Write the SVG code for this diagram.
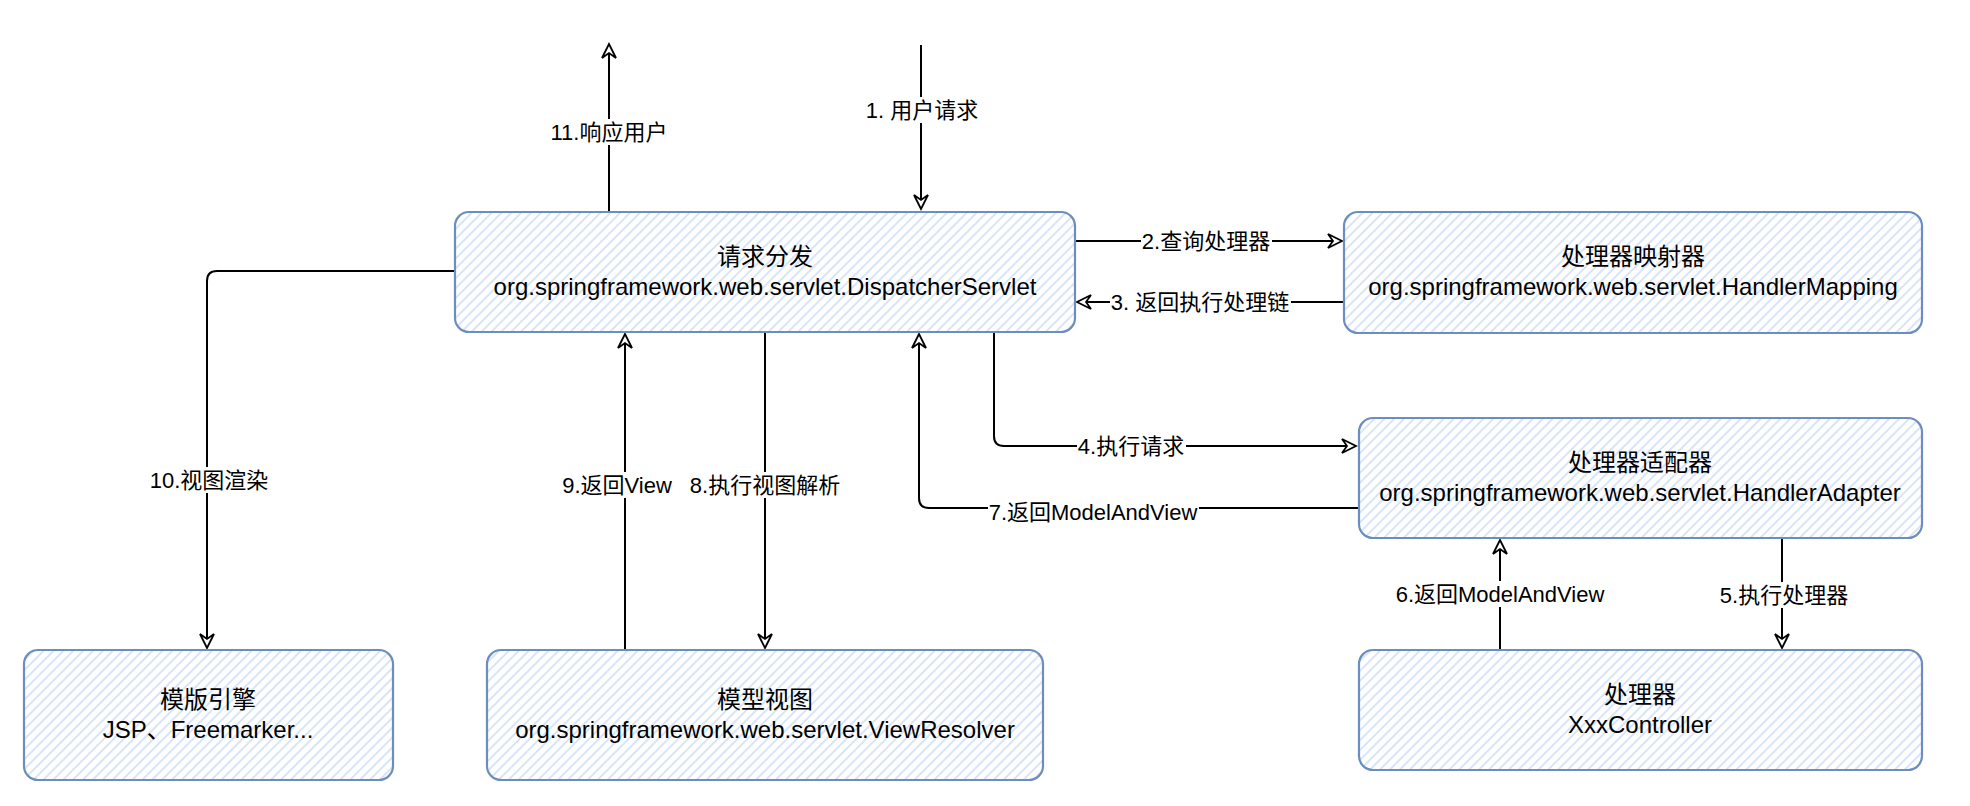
<svg xmlns="http://www.w3.org/2000/svg" width="1970" height="806" viewBox="0 0 1970 806">
<style>
.box{fill:url(#hatch);stroke:#6c8ebf;stroke-width:2.2}
.nt{font-family:"Liberation Sans","Noto Sans CJK SC",sans-serif;font-size:24px;fill:#000;text-anchor:middle}
.lt{font-family:"Liberation Sans","Noto Sans CJK SC",sans-serif;font-size:22px;fill:#000;text-anchor:middle}
.edge{fill:none;stroke:#000;stroke-width:2;marker-end:url(#arr)}
.lbg{fill:#fff}
</style>
<defs>
<pattern id="hatch" patternUnits="userSpaceOnUse" width="7" height="7" patternTransform="rotate(45)">
<rect width="7" height="7" fill="#fff"/>
<line x1="1" y1="0" x2="1" y2="7" stroke="#d4e3f8" stroke-width="1.8"/>
</pattern>
<marker id="arr" markerUnits="userSpaceOnUse" viewBox="-1 -1 17 16" refX="14" refY="7" markerWidth="17" markerHeight="16" orient="auto">
<path d="M0,0 L14,7 L0,14 L5,7 Z" fill="#fff" stroke="#000" stroke-width="1.8" stroke-linejoin="miter"/>
</marker>
</defs>
<rect width="1970" height="806" fill="#fff"/>

<g id="connectors">
<path class="edge" d="M921,45 L921,209"/>
<path class="edge" d="M609,212 L609,44"/>
<path class="edge" d="M1076,241 L1342,241"/>
<path class="edge" d="M1343,302 L1077,302"/>
<path class="edge" d="M994,333 L994,436 Q994,446 1004,446 L1356,446"/>
<path class="edge" d="M1782,539 L1782,648"/>
<path class="edge" d="M1500,650 L1500,540"/>
<path class="edge" d="M1359,508 L929,508 Q919,508 919,498 L919,334"/>
<path class="edge" d="M765,333 L765,648"/>
<path class="edge" d="M625,650 L625,334"/>
<path class="edge" d="M455,271 L217,271 Q207,271 207,281 L207,648"/>

<g id="labels">
<rect class="lbg" x="864" y="97" width="116" height="26"/>
<text class="lt" x="922" y="118">1. 用户请求</text>
<rect class="lbg" x="548" y="119" width="122" height="26"/>
<text class="lt" x="609" y="140">11.响应用户</text>
<rect class="lbg" x="1141" y="228" width="131" height="26"/>
<text class="lt" x="1206" y="249">2.查询处理器</text>
<rect class="lbg" x="1110" y="289" width="181" height="26"/>
<text class="lt" x="1200" y="310">3. 返回执行处理链</text>
<rect class="lbg" x="1077" y="433" width="109" height="26"/>
<text class="lt" x="1131" y="454">4.执行请求</text>
<rect class="lbg" x="1719" y="582" width="131" height="26"/>
<text class="lt" x="1784" y="603">5.执行处理器</text>
<rect class="lbg" x="1395" y="581" width="211" height="26"/>
<text class="lt" x="1500" y="602">6.返回ModelAndView</text>
<rect class="lbg" x="988" y="499" width="211" height="26"/>
<text class="lt" x="1093" y="520">7.返回ModelAndView</text>
<rect class="lbg" x="689" y="472" width="153" height="26"/>
<text class="lt" x="765" y="493">8.执行视图解析</text>
<rect class="lbg" x="561" y="472" width="112" height="26"/>
<text class="lt" x="617" y="493">9.返回View</text>
<rect class="lbg" x="149" y="467" width="122" height="26"/>
<text class="lt" x="209" y="488">10.视图渲染</text>
</g>
</g>

<g id="dispatcher">
<rect class="box" x="455" y="212" width="620" height="120" rx="14"/>
<text class="nt" x="765" y="265">请求分发</text>
<text class="nt" x="765" y="295">org.springframework.web.servlet.DispatcherServlet</text>
</g>
<g id="handlerMapping">
<rect class="box" x="1344" y="212" width="578" height="121" rx="14"/>
<text class="nt" x="1633" y="265">处理器映射器</text>
<text class="nt" x="1633" y="295">org.springframework.web.servlet.HandlerMapping</text>
</g>
<g id="handlerAdapter">
<rect class="box" x="1359" y="418" width="563" height="120" rx="14"/>
<text class="nt" x="1640" y="471">处理器适配器</text>
<text class="nt" x="1640" y="501">org.springframework.web.servlet.HandlerAdapter</text>
</g>
<g id="controller">
<rect class="box" x="1359" y="650" width="563" height="120" rx="14"/>
<text class="nt" x="1640" y="703">处理器</text>
<text class="nt" x="1640" y="733">XxxController</text>
</g>
<g id="templateEngine">
<rect class="box" x="24" y="650" width="369" height="130" rx="14"/>
<text class="nt" x="208" y="708">模版引擎</text>
<text class="nt" x="208" y="738">JSP、Freemarker...</text>
</g>
<g id="viewResolver">
<rect class="box" x="487" y="650" width="556" height="130" rx="14"/>
<text class="nt" x="765" y="708">模型视图</text>
<text class="nt" x="765" y="738">org.springframework.web.servlet.ViewResolver</text>
</g>
</svg>
